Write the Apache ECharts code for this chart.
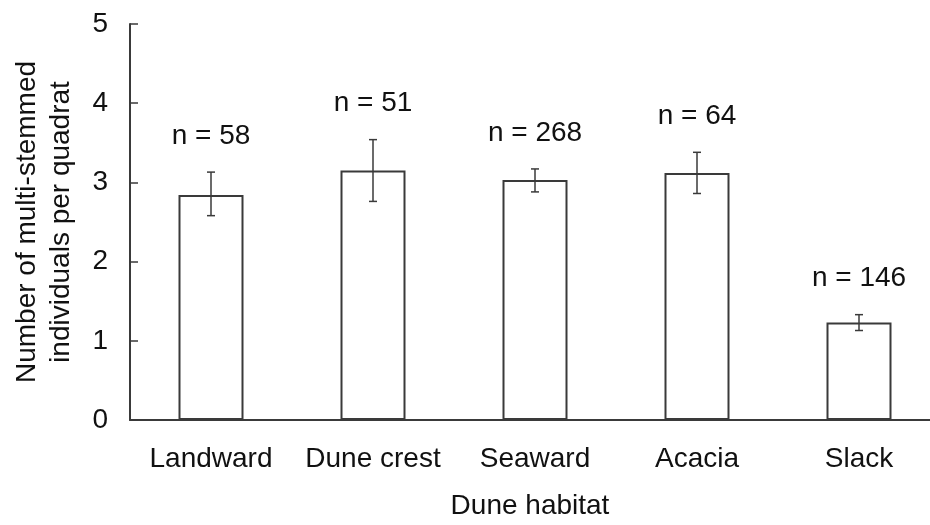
<!DOCTYPE html>
<html>
<head>
<meta charset="utf-8">
<script src="https://cdn.jsdelivr.net/npm/echarts@6/dist/echarts.min.js"></script>
<style>
  html, body { margin: 0; padding: 0; background: #fff; overflow: hidden; }
  /* the plot area in the figure runs slightly past the right edge */
  #chart { width: 940px; height: 525px; }
</style>
</head>
<body>
<div id="chart"></div>
<script>
  // values
  const habitats = ['Landward', 'Dune crest', 'Seaward', 'Acacia', 'Slack']
  const means = [2.84, 3.15, 3.03, 3.12, 1.23]
  const errLow = [2.58, 2.76, 2.88, 2.86, 1.13]
  const errHigh = [3.13, 3.54, 3.17, 3.38, 1.33]
  const sampleN = [58, 51, 268, 64, 146]

  const lineColor = '#3a3a3a'
  const textColor = '#111'
  const font = 'Liberation Sans, Arial, sans-serif'

  const errData = habitats.map((h, i) => [i, errLow[i], errHigh[i], sampleN[i]])

  const chart = echarts.init(document.getElementById('chart'))
  chart.setOption({
    backgroundColor: '#fff',
    animation: false,
    textStyle: { fontFamily: font },
    grid: {
      left: 130,
      right: 0,
      top: 24,
      bottom: 103
    },
    xAxis: {
      type: 'category',
      data: habitats,
      axisLine: { lineStyle: { color: lineColor, width: 2 } },
      axisTick: { show: false },
      axisLabel: { color: textColor, fontSize: 28, margin: 25, interval: 0, fontFamily: font },
      name: 'Dune habitat',
      nameLocation: 'middle',
      nameGap: 72,
      nameTextStyle: { color: textColor, fontSize: 28, fontFamily: font, padding: [0, 10, 0, 0] }
    },
    yAxis: {
      type: 'value',
      min: 0,
      max: 5,
      interval: 1,
      axisLine: { show: true, lineStyle: { color: lineColor, width: 2 } },
      axisTick: { show: true, inside: true, length: 8, lineStyle: { color: lineColor, width: 1.5 } },
      splitLine: { show: false },
      axisLabel: { color: textColor, fontSize: 28, margin: 22, fontFamily: font },
      name: 'Number of multi-stemmed\nindividuals per quadrat',
      nameLocation: 'middle',
      nameGap: 52,
      nameTextStyle: { color: textColor, fontSize: 28, lineHeight: 34, fontFamily: font }
    },
    series: [{
      type: 'bar',
      data: means,
      barWidth: 65,
      itemStyle: {
        color: '#fff',
        borderColor: lineColor,
        borderWidth: 2
      }
    }, {
      type: 'custom',
      data: errData,
      z: 10,
      renderItem(params, api) {
        const lo = api.coord([api.value(0), api.value(1)])
        const hi = api.coord([api.value(0), api.value(2)])
        const x = lo[0]
        const cap = 4
        const style = { stroke: lineColor, lineWidth: 1.5 }
        return {
          type: 'group',
          children: [
            { type: 'line', shape: { x1: x, y1: lo[1], x2: x, y2: hi[1] }, style },
            { type: 'line', shape: { x1: x - cap, y1: lo[1], x2: x + cap, y2: lo[1] }, style },
            { type: 'line', shape: { x1: x - cap, y1: hi[1], x2: x + cap, y2: hi[1] }, style },
            {
              type: 'text',
              x: x,
              y: hi[1] - 36,
              style: {
                text: 'n = ' + api.value(3),
                fill: textColor,
                font: '28px ' + font,
                align: 'center',
                verticalAlign: 'middle'
              }
            }
          ]
        }
      }
    }]
  })
</script>
</body>
</html>
